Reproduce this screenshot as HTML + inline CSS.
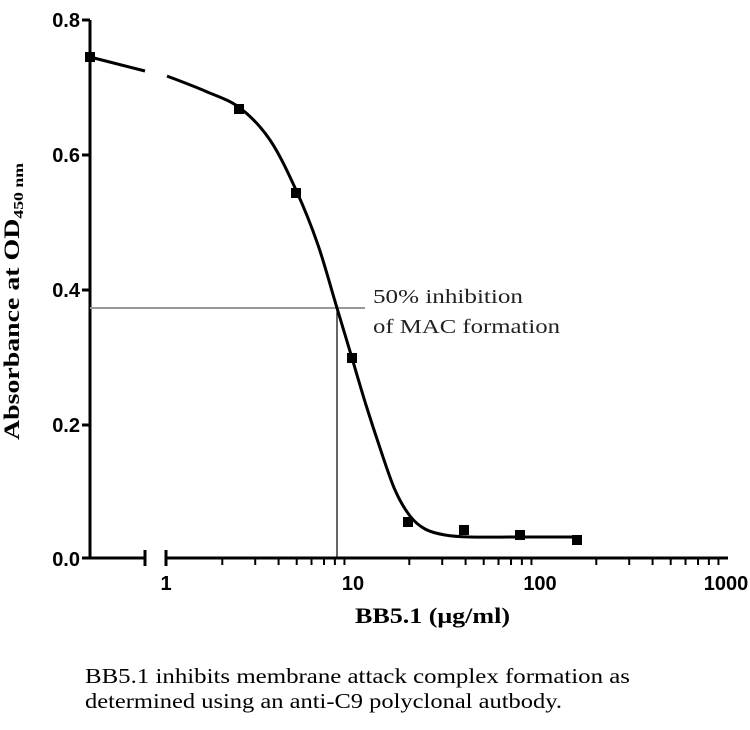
<!DOCTYPE html>
<html><head><style>
body{margin:0;background:#fff;width:750px;height:725px;overflow:hidden}
</style></head><body>
<svg id="s" width="750" height="725" xmlns="http://www.w3.org/2000/svg">
<g font-family="Liberation Sans, sans-serif" font-weight="bold" font-size="20" fill="#000">
<text x="80" y="27" text-anchor="end">0.8</text>
<text x="80" y="162" text-anchor="end">0.6</text>
<text x="80" y="297" text-anchor="end">0.4</text>
<text x="80" y="432" text-anchor="end">0.2</text>
<text x="80" y="566" text-anchor="end">0.0</text>
<text x="166" y="590" text-anchor="middle">1</text>
<text x="353" y="590" text-anchor="middle">10</text>
<text x="540" y="590" text-anchor="middle">100</text>
<text x="726" y="590" text-anchor="middle">1000</text>
</g>
<g stroke="#000" stroke-width="3" fill="none">
<line x1="90" y1="20" x2="90" y2="559"/>
<line x1="82" y1="20" x2="90" y2="20"/>
<line x1="82" y1="155" x2="90" y2="155"/>
<line x1="82" y1="290" x2="90" y2="290"/>
<line x1="82" y1="425" x2="90" y2="425"/>
<line x1="82" y1="558" x2="145" y2="558"/>
<line x1="145" y1="550" x2="145" y2="566"/>
<line x1="166" y1="558" x2="728" y2="558"/>
<line x1="166" y1="550" x2="166" y2="566"/>
</g>
<g id="ticks" stroke="#000" stroke-width="2"></g>
<line x1="90" y1="308" x2="365" y2="308" stroke="#999" stroke-width="2"/>
<line x1="337" y1="308" x2="337" y2="558" stroke="#000" stroke-width="1.2"/>
<path id="c" stroke="#000" stroke-width="3" fill="none"/>
<line x1="90" y1="57" x2="145" y2="71" stroke="#000" stroke-width="3"/>
<g id="pts" fill="#000"></g>
<text x="373" y="303" font-family="Liberation Serif, serif" font-size="20" fill="#222" textLength="150" lengthAdjust="spacingAndGlyphs">50% inhibition</text>
<text x="373" y="333" font-family="Liberation Serif, serif" font-size="20" fill="#222" textLength="187" lengthAdjust="spacingAndGlyphs">of MAC formation</text>
<text x="355" y="623" font-family="Liberation Serif, serif" font-weight="bold" font-size="22" textLength="155" lengthAdjust="spacingAndGlyphs">BB5.1 (μg/ml)</text>
<text transform="translate(19,440) rotate(-90)" font-family="Liberation Serif, serif" font-weight="bold" font-size="22" textLength="277" lengthAdjust="spacingAndGlyphs">Absorbance at OD<tspan font-size="14" dy="4">450 nm</tspan></text>
<text x="85" y="683" font-family="Liberation Serif, serif" font-size="21" textLength="545" lengthAdjust="spacingAndGlyphs">BB5.1 inhibits membrane attack complex formation as</text>
<text x="85" y="708" font-family="Liberation Serif, serif" font-size="21" textLength="477" lengthAdjust="spacingAndGlyphs">determined using an anti-C9 polyclonal autbody.</text>
</svg>
<script>
var ns="http://www.w3.org/2000/svg";
function X(v){return 166+187*Math.log10(v)}
var t=document.getElementById("ticks");
for(var d=1;d<1000;d*=10)for(var k=2;k<=9;k++){var x=X(d*k);var l=document.createElementNS(ns,"line");l.setAttribute("x1",x);l.setAttribute("x2",x);l.setAttribute("y1",558);l.setAttribute("y2",565);t.appendChild(l);}
var P=[[167,76],[205,91],[240,108],[270,140],[296,190],[318,245],[337,308],[352,358],[366,405],[380,448],[395,490],[410,516],[425,529],[445,535],[470,537],[520,537],[582,537]];
var d="M"+P[0][0]+","+P[0][1];
for(var i=0;i<P.length-1;i++){var p0=P[Math.max(i-1,0)],p1=P[i],p2=P[i+1],p3=P[Math.min(i+2,P.length-1)];
d+="C"+(p1[0]+(p2[0]-p0[0])/6).toFixed(1)+","+(p1[1]+(p2[1]-p0[1])/6).toFixed(1)+" "+(p2[0]-(p3[0]-p1[0])/6).toFixed(1)+","+(p2[1]-(p3[1]-p1[1])/6).toFixed(1)+" "+p2[0]+","+p2[1];}
document.getElementById("c").setAttribute("d",d);
var pts=[[90,57],[239,109],[296,193],[352,358],[408,522],[464,530],[520,535],[577,540]];
var g=document.getElementById("pts");
pts.forEach(function(q){var r=document.createElementNS(ns,"rect");r.setAttribute("x",q[0]-5);r.setAttribute("y",q[1]-5);r.setAttribute("width",10);r.setAttribute("height",10);g.appendChild(r);});
</script>
</body></html>
